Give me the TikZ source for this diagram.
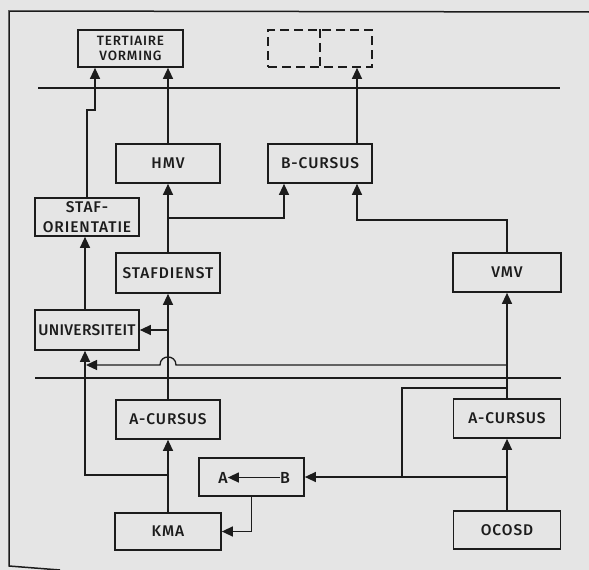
\documentclass[tikz,border=0pt]{standalone}
\usepackage{fontspec}
\setmainfont{Fira Sans}
\newfontfamily\diagfont[LetterSpace=6]{Fira Sans Medium}
\newfontfamily\diagfontn[LetterSpace=2]{Fira Sans Medium}
\usetikzlibrary{arrows.meta}
\definecolor{bg}{RGB}{229,229,229}
\definecolor{ink}{RGB}{28,28,28}
\begin{document}
\begin{tikzpicture}[x=1pt,y=-1pt,
  box/.style={draw=ink, line width=1.7pt, rectangle, inner sep=0pt, align=center,
    font=\diagfont\fontsize{15.5}{20}\selectfont, text=ink},
  dbox/.style={draw=ink, line width=1.7pt, dash pattern=on 9pt off 5pt, rectangle, inner sep=0pt},
  arr/.style={-{Triangle[length=11pt,width=10pt]}},
  ln/.style={draw=ink, line width=1.3pt},
  lbl/.style={inner sep=0pt, font=\diagfont\fontsize{16}{16}\selectfont, text=ink}
]
\fill[bg] (0,0) rectangle (589,570);
\useasboundingbox (0,0) rectangle (589,570);

% frame
\draw[ln, line width=1.5pt] (589,12) -- (9,11) -- (9,566) -- (60,570);

% sector lines
\draw[ln] (38,88) -- (560,88);
\draw[ln] (35,378) -- (561,378);

% boxes
\node[box, minimum width=105pt, minimum height=37pt, font=\diagfont\fontsize{13.5}{15}\selectfont] (tert) at (130.5,48.5) {TERTIAIRE\\VORMING};
\node[dbox, minimum width=104pt, minimum height=37pt] (dash) at (320,48.5) {};
\node[box, minimum width=104pt, minimum height=39pt] (hmv) at (168,163.5) {HMV};
\node[box, minimum width=104pt, minimum height=39pt] (bcur) at (320,163.5) {B-CURSUS};
\node[box, minimum width=104pt, minimum height=38pt] (staf) at (87,217) {STAF-\\ORIENTATIE};
\node[box, minimum width=104pt, minimum height=40pt] (stafd) at (168,273) {STAFDIENST};
\node[box, minimum width=108pt, minimum height=39pt] (vmv) at (507,272.5) {VMV};
\node[box, minimum width=104pt, minimum height=40pt, font=\diagfontn\fontsize{15.5}{20}\selectfont] (univ) at (87,330) {UNIVERSITEIT};
\node[box, minimum width=104pt, minimum height=39pt] (acl) at (168,419.5) {A-CURSUS};
\node[box, minimum width=107pt, minimum height=39pt] (acr) at (507,418.5) {A-CURSUS};
\node[box, minimum width=105pt, minimum height=38pt] (ab) at (251.5,477) {};
\node[box, minimum width=106pt, minimum height=37pt] (kma) at (168,531.5) {KMA};
\node[box, minimum width=107pt, minimum height=38pt] (ocosd) at (507,530) {OCOSD};
\node[lbl] (la) at (223,477.5) {A};
\node[lbl] (lb) at (285,477.5) {B};

% dashed divider
\draw[ink, line width=1.7pt, dash pattern=on 9pt off 5pt] (dash.north) -- (dash.south);

% coordinates
\coordinate (s1) at (87,110);
\coordinate (s2) at (95,110);
\coordinate (b1) at (168,218);
\coordinate (b2) at (284,218);
\coordinate (v1) at (357,220);
\coordinate (h1) at (507,365);
\coordinate (h2) at (176,365);
\coordinate (h3) at (160,365);
\coordinate (h4) at (86,365);
\coordinate (o1) at (507,477);
\coordinate (o2) at (402,477);
\coordinate (o3) at (402,388);
\coordinate (o4) at (507,388);
\coordinate (k1) at (168,475);
\coordinate (k2) at (85,475);

% connectors
\draw[ln, arr] (hmv.north) -- (hmv.north |- tert.south);
\draw[ln, arr] (staf.north) -- (s1) -- (s2) -- (s2 |- tert.south);
\draw[ln, arr] (bcur.north -| v1) -- (v1 |- dash.south);
\draw[ln, arr] (stafd.north) -- (hmv.south);
\draw[ln, arr] (b1) -- (b2) -- (b2 |- bcur.south);
\draw[ln, arr] (vmv.north) |- (v1) -- (v1 |- bcur.south);
\draw[ln, arr] (k2 |- univ.north) -- (k2 |- staf.south);
\draw[ln, arr] (acl.north) -- (stafd.south);
\draw[ln, arr] (acl.north |- univ.east) -- (univ.east);
\draw[ln, arr] (h1) -- (h2) .. controls (176,354.3) and (160,354.3) .. (h3) -- (h4);
\draw[ln, arr] (acr.north) -- (vmv.south);
\draw[ln, arr] (ocosd.north) -- (acr.south);
\draw[ln, arr] (o1) -- (ab.east);
\draw[ln] (o2) -- (o3) -- (o4);
\draw[ln, arr] (kma.north) -- (acl.south);
\draw[ln, arr] (k1) -- (k2) -- (k2 |- univ.south);
\draw[ln, arr] (ab.south) |- (kma.east);
\draw[ln, arr] (lb) -- (la);
\end{tikzpicture}
\end{document}
